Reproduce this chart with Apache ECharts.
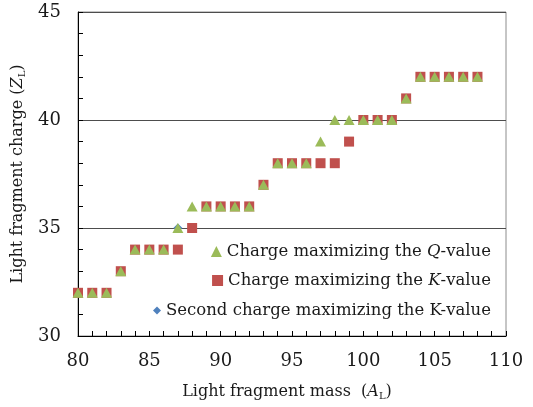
<!DOCTYPE html>
<html>
<head>
<meta charset="utf-8">
<script src="https://cdn.jsdelivr.net/npm/echarts@6/dist/echarts.min.js"></script>
<style>
html, body { margin: 0; padding: 0; background: #fff; }
#main { width: 533px; height: 407px; }
</style>
</head>
<body>
<div id="main"></div>
<script>
// light fragment mass (A_L)
var masses = [80, 81, 82, 83, 84, 85, 86, 87, 88, 89, 90, 91, 92, 93, 94, 95, 96, 97, 98, 99, 100, 101, 102, 103, 104, 105, 106, 107, 108];
// charge maximizing the Q-value
var chargeQ = [32, 32, 32, 33, 34, 34, 34, 35, 36, 36, 36, 36, 36, 37, 38, 38, 38, 39, 40, 40, 40, 40, 40, 41, 42, 42, 42, 42, 42];
// charge maximizing the K-value
var chargeK = [32, 32, 32, 33, 34, 34, 34, 34, 35, 36, 36, 36, 36, 37, 38, 38, 38, 38, 38, 39, 40, 40, 40, 41, 42, 42, 42, 42, 42];
// second charge maximizing the K-value
var secondMass = [87];
var secondK = [35];

var FONT = "DejaVu Serif";

function pairs(xs, ys) {
  return xs.map(function (x, i) { return [x, ys[i]]; });
}

var myChart = echarts.init(document.getElementById("main"));

var legendBase = {
  orient: "horizontal",
  right: 37,
  itemGap: 4,
  selectedMode: false,
  textStyle: {
    fontFamily: FONT,
    fontSize: 16.5,
    color: "#1a1a1a",
    rich: {
      i: { fontFamily: FONT, fontSize: 16.5, fontStyle: "italic", color: "#1a1a1a" }
    }
  }
};

var option = {
  animation: false,
  textStyle: { fontFamily: FONT },
  grid: {
    left: 78,
    right: 27,
    top: 12,
    bottom: 71,
    show: true,
    borderColor: "#8c8c8c",
    borderWidth: 1
  },
  legend: [
    Object.assign({}, legendBase, {
      top: 238,
      itemWidth: 11,
      itemHeight: 11,
      data: ["Q"],
      formatter: function () { return "Charge maximizing the {i|Q}-value"; }
    }),
    Object.assign({}, legendBase, {
      top: 267,
      itemWidth: 11,
      itemHeight: 11,
      data: ["K"],
      formatter: function () { return "Charge maximizing the {i|K}-value"; }
    }),
    Object.assign({}, legendBase, {
      top: 297,
      itemWidth: 8,
      itemHeight: 8,
      itemGap: 2,
      data: ["K2"],
      formatter: function () { return "Second charge maximizing the K-value"; }
    })
  ],
  xAxis: {
    type: "value",
    min: 80,
    max: 110,
    interval: 5,
    name: "Light fragment mass  ({i|A}{s|L})",
    nameLocation: "middle",
    nameGap: 47,
    nameTextStyle: {
      fontFamily: FONT,
      fontSize: 16,
      color: "#1a1a1a",
      padding: [0, 10, 0, 0],
      rich: {
        i: { fontFamily: FONT, fontSize: 16, fontStyle: "italic", color: "#1a1a1a" },
        s: { fontFamily: FONT, fontSize: 10, color: "#1a1a1a", padding: [8, 0, 0, 0] }
      }
    },
    axisLine: { onZero: false, lineStyle: { color: "#000", width: 1 } },
    axisTick: { inside: true, length: 5, lineStyle: { color: "#000" } },
    minorTick: { show: true, splitNumber: 5, length: 5, lineStyle: { color: "#000" } },
    axisLabel: { fontFamily: FONT, fontSize: 18, color: "#1a1a1a", margin: 16 },
    splitLine: { show: false }
  },
  yAxis: {
    type: "value",
    min: 30,
    max: 45,
    interval: 5,
    name: "Light fragment charge ({i|Z}{s|L})",
    nameLocation: "middle",
    nameGap: 49,
    nameTextStyle: {
      fontFamily: FONT,
      fontSize: 16,
      color: "#1a1a1a",
      rich: {
        i: { fontFamily: FONT, fontSize: 16, fontStyle: "italic", color: "#1a1a1a" },
        s: { fontFamily: FONT, fontSize: 10, color: "#1a1a1a", padding: [8, 0, 0, 0] }
      }
    },
    axisLine: { show: true, onZero: false, lineStyle: { color: "#000", width: 1 } },
    axisTick: { show: true, inside: true, length: 5, lineStyle: { color: "#000" } },
    minorTick: { show: true, splitNumber: 5, length: 5, lineStyle: { color: "#000" } },
    axisLabel: { fontFamily: FONT, fontSize: 18, color: "#1a1a1a", margin: 17 },
    splitLine: { show: true, lineStyle: { color: "#4d4d4d", width: 1 } }
  },
  series: [
    {
      name: "K",
      type: "scatter",
      symbol: "rect",
      symbolSize: 10,
      z: 2,
      itemStyle: { color: "#c0504d", opacity: 1 },
      data: pairs(masses, chargeK)
    },
    {
      name: "K2",
      type: "scatter",
      symbol: "diamond",
      symbolSize: 9,
      z: 3,
      itemStyle: { color: "#4f81bd", opacity: 1 },
      data: pairs(secondMass, secondK)
    },
    {
      name: "Q",
      type: "scatter",
      symbol: "triangle",
      symbolSize: [11, 10],
      z: 4,
      itemStyle: { color: "#9bbb59", opacity: 1 },
      data: pairs(masses, chargeQ)
    }
  ]
};

myChart.setOption(option);
window.onresize = myChart.resize;
</script>
</body>
</html>
